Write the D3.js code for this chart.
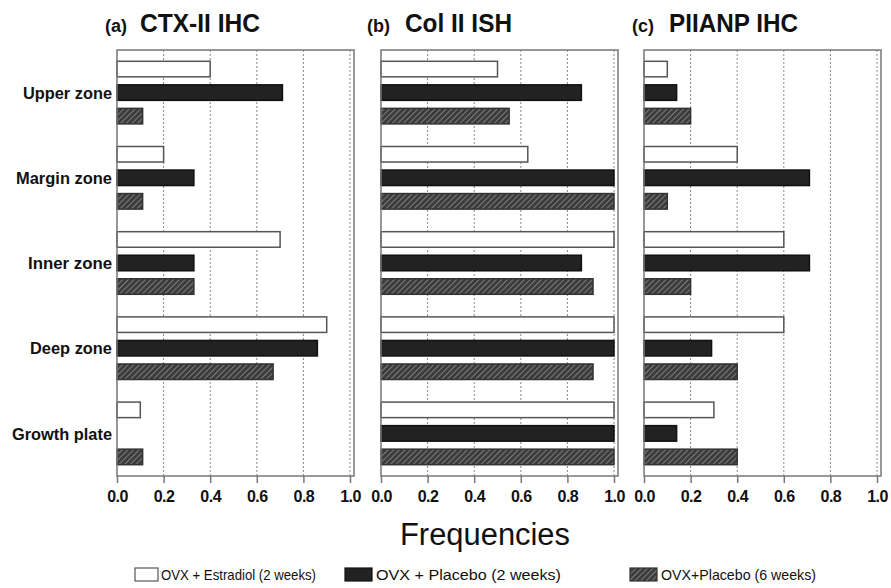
<!DOCTYPE html>
<html>
<head>
<meta charset="utf-8">
<script src="https://cdn.jsdelivr.net/npm/d3@7"></script>
<style>
  body { margin: 0; background: #fff; }
  text { font-family: "Liberation Sans", Arial, sans-serif; fill: #111; }
</style>
</head>
<body>
<svg></svg>
<script>
const width = 891;
const height = 588;

const zones = ['Upper zone', 'Margin zone', 'Inner zone', 'Deep zone', 'Growth plate'];
const groups = ['OVX + Estradiol (2 weeks)', 'OVX + Placebo (2 weeks)', 'OVX+Placebo (6 weeks)'];
const ticks = [0, 0.2, 0.4, 0.6, 0.8, 1.0];

// values per zone, order: estradiol 2w, placebo 2w, placebo 6w
const ctxValues = [[0.40, 0.71, 0.11], [0.20, 0.33, 0.11], [0.70, 0.33, 0.33], [0.90, 0.86, 0.67], [0.10, 0, 0.11]];
const colValues = [[0.50, 0.86, 0.55], [0.63, 1.0, 1.0], [1.0, 0.86, 0.91], [1.0, 1.0, 0.91], [1.0, 1.0, 1.0]];
const piianpValues = [[0.10, 0.14, 0.20], [0.40, 0.71, 0.10], [0.60, 0.71, 0.20], [0.60, 0.29, 0.40], [0.30, 0.14, 0.40]];

const panels = [
  { tag: '(a)', title: 'CTX-II IHC', values: ctxValues, x0: 117, tagX: 105, titleX: 140, titleW: 120 },
  { tag: '(b)', title: 'Col II ISH', values: colValues, x0: 381, tagX: 367, titleX: 405, titleW: 107 },
  { tag: '(c)', title: 'PIIANP IHC', values: piianpValues, x0: 644, tagX: 632, titleX: 669, titleW: 129 }
];

const plotTop = 50;
const plotBottom = 476;
const plotW = 233;

const svg = d3.select('svg')
  .attr('width', width)
  .attr('height', height);

const defs = svg.append('defs');
const pat = defs.append('pattern')
  .attr('id', 'hatch')
  .attr('patternUnits', 'userSpaceOnUse')
  .attr('width', 4)
  .attr('height', 4)
  .attr('patternTransform', 'rotate(45)');
pat.append('rect').attr('width', 4).attr('height', 4).attr('fill', '#3c3c3c');
pat.append('line')
  .attr('x1', 0).attr('y1', 0).attr('x2', 0).attr('y2', 4)
  .attr('stroke', '#a8a8a8').attr('stroke-width', 1.2);

const fills = ['#ffffff', '#222222', 'url(#hatch)'];
const strokes = ['#555', '#111', '#333'];

const yZone = d3.scaleBand()
  .domain(zones)
  .range([plotTop, plotBottom]);

const yGroup = d3.scaleBand()
  .domain(groups)
  .range([0, yZone.bandwidth()])
  .paddingInner(0.34)
  .paddingOuter(0.48);

panels.forEach(p => {
  const x = d3.scaleLinear().domain([0, 1]).range([p.x0, p.x0 + plotW]);
  const g = svg.append('g');

  // gridlines
  g.selectAll('.grid')
    .data(ticks.slice(1))
    .join('line')
    .attr('x1', d => x(d)).attr('x2', d => x(d))
    .attr('y1', plotTop).attr('y2', plotBottom)
    .attr('stroke', '#888')
    .attr('stroke-width', 1)
    .attr('stroke-dasharray', '2,2');

  // bars
  const bars = [];
  zones.forEach((z, zi) => {
    p.values[zi].forEach((v, gi) => {
      if (v > 0) bars.push({ zone: z, gi, v });
    });
  });

  g.selectAll('.bar')
    .data(bars)
    .join('rect')
    .attr('x', x(0))
    .attr('y', d => yZone(d.zone) + yGroup(groups[d.gi]))
    .attr('width', d => x(d.v) - x(0))
    .attr('height', yGroup.bandwidth())
    .attr('fill', d => fills[d.gi])
    .attr('stroke', d => strokes[d.gi])
    .attr('stroke-width', 1.5);

  // frame
  g.append('rect')
    .attr('x', p.x0).attr('y', plotTop)
    .attr('width', plotW + 4).attr('height', plotBottom - plotTop)
    .attr('fill', 'none')
    .attr('stroke', '#777')
    .attr('stroke-width', 1.5);

  const axis = d3.axisBottom(x)
    .tickValues(ticks)
    .tickFormat(d3.format('.1f'))
    .tickSize(7)
    .tickSizeOuter(0);
  const ax = g.append('g')
    .attr('transform', `translate(0, ${plotBottom})`)
    .call(axis);
  ax.select('.domain').remove();
  ax.selectAll('line').attr('stroke', '#777').attr('stroke-width', 1.5);
  ax.selectAll('text')
    .attr('y', 15)
    .style('font-size', '16px')
    .style('font-weight', 'bold')
    .style('letter-spacing', '-0.5px')
    .attr('fill', '#111');

  svg.append('text')
    .attr('x', p.tagX).attr('y', 32)
    .style('font-size', '18px')
    .style('font-weight', 'bold')
    .text(p.tag);
  svg.append('text')
    .attr('x', p.titleX).attr('y', 32)
    .attr('textLength', p.titleW)
    .attr('lengthAdjust', 'spacingAndGlyphs')
    .style('font-size', '26px')
    .style('font-weight', 'bold')
    .text(p.title);
});

// zone labels
const zoneLabelW = [89, 96, 84, 82, 100];
svg.selectAll('.zone')
  .data(zones)
  .join('text')
  .attr('x', 112)
  .attr('y', d => yZone(d) + yZone.bandwidth() / 2)
  .attr('dy', '0.36em')
  .attr('text-anchor', 'end')
  .attr('textLength', (d, i) => zoneLabelW[i])
  .attr('lengthAdjust', 'spacingAndGlyphs')
  .style('font-size', '17px')
  .style('font-weight', 'bold')
  .text(d => d);

svg.append('text')
  .attr('x', 485).attr('y', 545)
  .attr('text-anchor', 'middle')
  .attr('textLength', 170)
  .attr('lengthAdjust', 'spacingAndGlyphs')
  .style('font-size', '31px')
  .text('Frequencies');

// legend
const legendX = [135, 345, 630];
const legendW = [155, 185, 155];
const lg = svg.selectAll('.legend')
  .data(groups)
  .join('g')
  .attr('transform', (d, i) => `translate(${legendX[i]}, 568)`);
lg.append('rect')
  .attr('width', (d, i) => i === 0 ? 23 : 27)
  .attr('height', 13)
  .attr('fill', (d, i) => fills[i])
  .attr('stroke', (d, i) => strokes[i])
  .attr('stroke-width', 1.2);
lg.append('text')
  .attr('x', (d, i) => i === 0 ? 26 : 31)
  .attr('y', 12)
  .attr('textLength', (d, i) => legendW[i])
  .attr('lengthAdjust', 'spacingAndGlyphs')
  .style('font-size', '15px')
  .text(d => d);
</script>
</body>
</html>
